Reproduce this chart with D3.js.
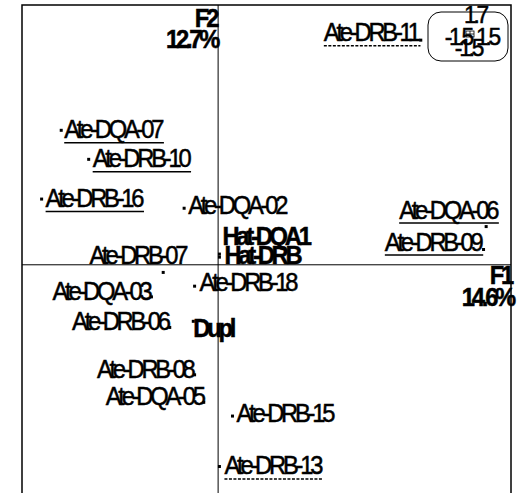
<!DOCTYPE html>
<html>
<head>
<meta charset="utf-8">
<script src="https://cdn.jsdelivr.net/npm/d3@7/dist/d3.min.js"></script>
<style>
  html, body { margin: 0; padding: 0; background: #fff; }
  svg { display: block; }
  text { font-family: "Liberation Sans", Arial, sans-serif; fill: #000; stroke: #000; stroke-width: 0.5; }
</style>
</head>
<body>
<div id="chart"></div>
<script>
// scores on the first two axes
const labels = ['Ate-DQA-07', 'Ate-DRB-10', 'Ate-DRB-16', 'Ate-DQA-02', 'Ate-DQA-06', 'Ate-DRB-09',
  'Hat-DQA1', 'Hat-DRB', 'Ate-DRB-07', 'Ate-DQA-03', 'Ate-DRB-18', 'Ate-DRB-06', 'Dupl',
  'Ate-DRB-08', 'Ate-DQA-05', 'Ate-DRB-15', 'Ate-DRB-13', 'Ate-DRB-11']
const f1 = [-1.20, -0.99, -1.35, -0.26, 2.05, 2.03, 0.01, 0.01, -0.42, -0.51, -0.18, -0.37, -0.19,
  -0.18, -0.11, 0.11, 0.01, 1.55]
const f2 = [0.88, 0.69, 0.43, 0.37, 0.25, 0.10, 0.07, 0.05, -0.05, -0.21, -0.14, -0.41, -0.37,
  -0.72, -0.90, -0.99, -1.32, 1.47]
const underline = ['solid', 'solid', 'solid', 'none', 'solid', 'solid', 'none', 'none', 'none', 'none',
  'none', 'none', 'none', 'none', 'none', 'none', 'dashed', 'dashed']
const bold = ['Hat-DQA1', 'Hat-DRB', 'Dupl']

const axisNames = ['F1', 'F2']
const inertia = ['14.6%', '12.7%']
const xDomain = [-1.5, 2.24]
const yDomain = [-1.5, 1.7]
const gridLabels = { top: '1.7', left: '-1.5', right: '1.5', bottom: '-1.5' }

// label placement relative to its point (anchor, dx, dy in px)
const labelPlace = [
  ['start', 3, 8], ['start', 4, 8], ['start', 4, 8], ['start', 4, 6], ['end', 10, -8], ['end', -3, 1],
  ['start', 3, -9], ['start', 5, 7], ['end', 22, -8], ['end', -2, 3], ['start', 5, 5], ['end', -2, 3],
  ['start', 0, 16], ['end', -2, 3], ['end', -1, 3], ['start', 4, 6], ['start', 5, 8], ['end', -3, 1]
]

const width = 523, height = 493
const frame = { left: 22, right: 511, top: 5, bottom: 494 }

const x = d3.scaleLinear().domain(xDomain).range([frame.left, frame.right])
const y = d3.scaleLinear().domain(yDomain).range([frame.bottom, frame.top])

const svg = d3.select('#chart').append('svg')
  .attr('width', width).attr('height', height)

// frame and axes through the origin
svg.append('rect').attr('x', frame.left).attr('y', frame.top)
  .attr('width', frame.right - frame.left).attr('height', frame.bottom + 10 - frame.top)
  .attr('fill', 'none').attr('stroke', '#000').attr('stroke-width', 1.5)
svg.append('line').attr('x1', x(0)).attr('x2', x(0)).attr('y1', frame.top).attr('y2', height)
  .attr('stroke', '#000').attr('stroke-width', 1)
svg.append('line').attr('x1', frame.left).attr('x2', frame.right).attr('y1', y(0)).attr('y2', y(0))
  .attr('stroke', '#000').attr('stroke-width', 1)

const SX = 0.95
function squeezed(g, txt, anchor, size, weight) {
  return g.append('text').attr('transform', `scale(${SX},1)`)
    .attr('text-anchor', anchor).attr('font-size', size).attr('font-weight', weight || 'normal')
    .attr('letter-spacing', -3.4).text(txt)
}

// points
svg.selectAll('.pt').data(labels).join('rect').attr('class', 'pt')
  .attr('x', (d, i) => x(f1[i]) - 1.5).attr('y', (d, i) => y(f2[i]) - 1.5)
  .attr('width', 3).attr('height', 3).attr('fill', '#000')

// labels
labels.forEach((lab, i) => {
  const [anchor, dx, dy] = labelPlace[i]
  const g = svg.append('g').attr('transform', `translate(${x(f1[i]) + dx},${y(f2[i]) + dy})`)
  const t = squeezed(g, lab, anchor, 25, bold.includes(lab) ? 'bold' : 'normal')
  if (underline[i] !== 'none') {
    const b = t.node().getBBox()
    g.append('line').attr('x1', b.x * SX).attr('x2', (b.x + b.width) * SX).attr('y1', 4.5).attr('y2', 4.5)
      .attr('stroke', '#000').attr('stroke-width', 1.5)
      .attr('stroke-dasharray', underline[i] === 'dashed' ? '3,1.5' : null)
  }
})

// axis names
const gF2 = svg.append('g').attr('transform', `translate(${x(0) - 2},27)`)
squeezed(gF2, axisNames[1], 'end', 25, 'bold')
const gP2 = svg.append('g').attr('transform', `translate(${x(0) - 1},48)`)
squeezed(gP2, inertia[1], 'end', 25, 'bold')
const gF1 = svg.append('g').attr('transform', `translate(${frame.right},${y(0) + 19})`)
squeezed(gF1, axisNames[0], 'end', 25, 'bold')
const gP1 = svg.append('g').attr('transform', `translate(${frame.right + 2},${y(0) + 41})`)
squeezed(gP1, inertia[0], 'end', 25, 'bold')

// scale box
svg.append('rect').attr('x', 428).attr('y', 12).attr('width', 80).attr('height', 49).attr('rx', 13)
  .attr('fill', '#fff').attr('stroke', '#000').attr('stroke-width', 1)
const cx = 470, cy = 34
svg.append('rect').attr('x', cx - 4).attr('y', cy - 3).attr('width', 8).attr('height', 6)
  .attr('fill', 'none').attr('stroke', '#000').attr('stroke-width', 0.8)
svg.append('line').attr('x1', cx - 4).attr('x2', cx + 4).attr('y1', cy).attr('y2', cy).attr('stroke', '#000').attr('stroke-width', 0.8)
svg.append('line').attr('x1', cx).attr('x2', cx).attr('y1', cy - 3).attr('y2', cy + 3).attr('stroke', '#000').attr('stroke-width', 0.8)
squeezed(svg.append('g').attr('transform', `translate(${cx + 5},23)`), gridLabels.top, 'middle', 24)
squeezed(svg.append('g').attr('transform', `translate(${cx + 1},45)`), gridLabels.left, 'end', 24)
squeezed(svg.append('g').attr('transform', `translate(${cx + 6},45)`), gridLabels.right, 'start', 24)
squeezed(svg.append('g').attr('transform', `translate(${cx - 2},56)`), gridLabels.bottom, 'middle', 24)
</script>
</body>
</html>
